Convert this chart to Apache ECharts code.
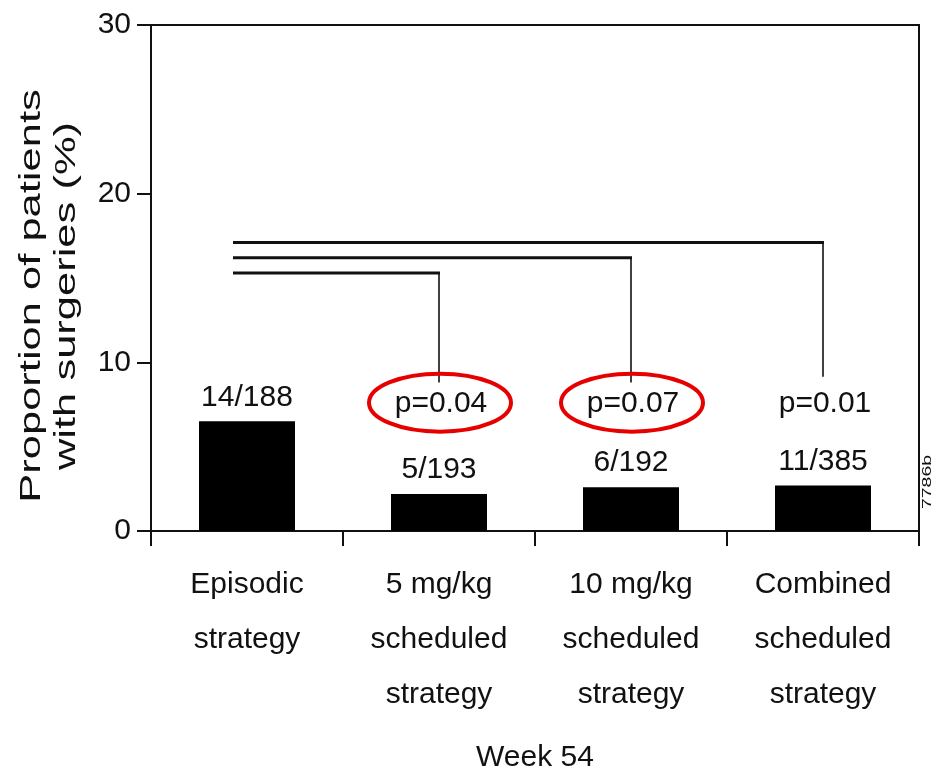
<!DOCTYPE html>
<html>
<head>
<meta charset="utf-8">
<script src="https://cdn.jsdelivr.net/npm/echarts@6/dist/echarts.min.js"></script>
<style>
html, body { margin: 0; padding: 0; background: #fff; }
#chart { width: 938px; height: 778px; }
</style>
</head>
<body>
<div id="chart"></div>
<script>
// ---- data ----
const categories = [
  'Episodic\nstrategy',
  '5 mg/kg\nscheduled\nstrategy',
  '10 mg/kg\nscheduled\nstrategy',
  'Combined\nscheduled\nstrategy'
];
const proportions = [6.5, 2.2, 2.6, 2.7];
const countLabels = ['14/188', '5/193', '6/192', '11/385'];
const yMin = 0, yMax = 30, yStep = 10;

// comparisons of each scheduled strategy against the episodic strategy
const comparisonTargets = [1, 2, 3];
const bracketLevels = [15.3, 16.2, 17.1];
const bracketEnds = [8.8, 8.8, 9.15];
const pLabels = ['p=0.04', 'p=0.07', 'p=0.01'];
const pLabelLevels = [7.55, 7.55, 7.55];
const highlighted = [1, 1, 0];

const xAxisTitle = 'Week 54';
const yAxisTitle = ['Proportion of patients', 'with surgeries (%)'];
const figureCode = '7786b';

// ---- chart ----
const SANS = "'Liberation Sans', Arial, Helvetica, sans-serif";
const FS = 30;
const INK = '#111';

const chart = echarts.init(document.getElementById('chart'), null, { renderer: 'canvas' });

const comparisonData = comparisonTargets.map((t, i) => [t, bracketLevels[i], bracketEnds[i], highlighted[i], pLabelLevels[i]]);

const option = {
  backgroundColor: '#fff',
  animation: false,
  grid: {
    left: 151, right: 19, top: 25, bottom: 247,
    show: true, borderColor: INK, borderWidth: 2, backgroundColor: 'transparent'
  },
  xAxis: [
    {
      type: 'category',
      data: categories,
      axisLine: { show: true, onZero: false, lineStyle: { color: INK, width: 2 } },
      axisTick: { show: true, length: 15, lineStyle: { color: INK, width: 2 } },
      axisLabel: {
        color: INK, fontFamily: SANS, fontSize: FS, lineHeight: 55,
        margin: 26, interval: 0
      },
      name: xAxisTitle,
      nameLocation: 'middle',
      nameGap: 212,
      nameTextStyle: { color: INK, fontFamily: SANS, fontSize: FS }
    },
    {
      type: 'value', min: -0.5, max: 3.5, show: false
    }
  ],
  yAxis: {
    type: 'value',
    min: yMin, max: yMax, interval: yStep,
    axisLine: { show: true, onZero: false, lineStyle: { color: INK, width: 2 } },
    axisTick: { show: true, length: 14, lineStyle: { color: INK, width: 2 } },
    axisLabel: { color: INK, fontFamily: SANS, fontSize: FS, margin: 20 },
    splitLine: { show: false }
  },
  graphic: [
    {
      type: 'text',
      x: 49, y: 296,
      rotation: Math.PI / 2,
      scaleX: 1.45,
      style: {
        text: yAxisTitle.join('\n'),
        fontFamily: SANS, fontSize: 30, lineHeight: 35,
        fill: INK, align: 'center', verticalAlign: 'middle'
      }
    },
    {
      type: 'text',
      x: 927, y: 482,
      rotation: Math.PI / 2,
      scaleX: 1.5,
      style: {
        text: figureCode,
        fontFamily: SANS, fontSize: 13,
        fill: INK, align: 'center', verticalAlign: 'middle'
      }
    }
  ],
  series: [
    {
      type: 'bar',
      data: proportions,
      barWidth: 96,
      itemStyle: { color: '#000' },
      label: {
        show: true, position: 'top', distance: 9,
        formatter: (p) => countLabels[p.dataIndex],
        color: INK, fontFamily: SANS, fontSize: FS
      },
      silent: true
    },
    {
      type: 'custom',
      xAxisIndex: 1,
      yAxisIndex: 0,
      data: comparisonData,
      clip: false,
      silent: true,
      renderItem: function (params, api) {
        const i = params.dataIndex;
        const target = api.value(0);
        const level = api.value(1);
        const endY = api.value(2);
        const hl = api.value(3);
        const textLevel = api.value(4);
        const start = api.coord([0, level]);
        const corner = api.coord([target, level]);
        const end = api.coord([target, endY]);
        const txt = api.coord([target, textLevel]);
        const startX = start[0] - 14;
        const children = [
          {
            type: 'line',
            shape: { x1: startX, y1: corner[1], x2: corner[0] + 1, y2: corner[1] },
            style: { stroke: INK, lineWidth: 3 }
          },
          {
            type: 'line',
            shape: { x1: corner[0], y1: corner[1], x2: end[0], y2: end[1] },
            style: { stroke: INK, lineWidth: 1.6 }
          },
          {
            type: 'text',
            x: txt[0] + 2, y: txt[1],
            style: {
              text: pLabels[i], fontFamily: SANS, fontSize: FS,
              fill: INK, align: 'center', verticalAlign: 'middle'
            }
          }
        ];
        if (hl) {
          children.push({
            type: 'ellipse',
            shape: { cx: txt[0] + 1, cy: txt[1] - 1, rx: 71, ry: 29 },
            style: { fill: 'none', stroke: '#e60000', lineWidth: 4 }
          });
        }
        return { type: 'group', children: children };
      }
    }
  ]
};

chart.setOption(option);
</script>
</body>
</html>
